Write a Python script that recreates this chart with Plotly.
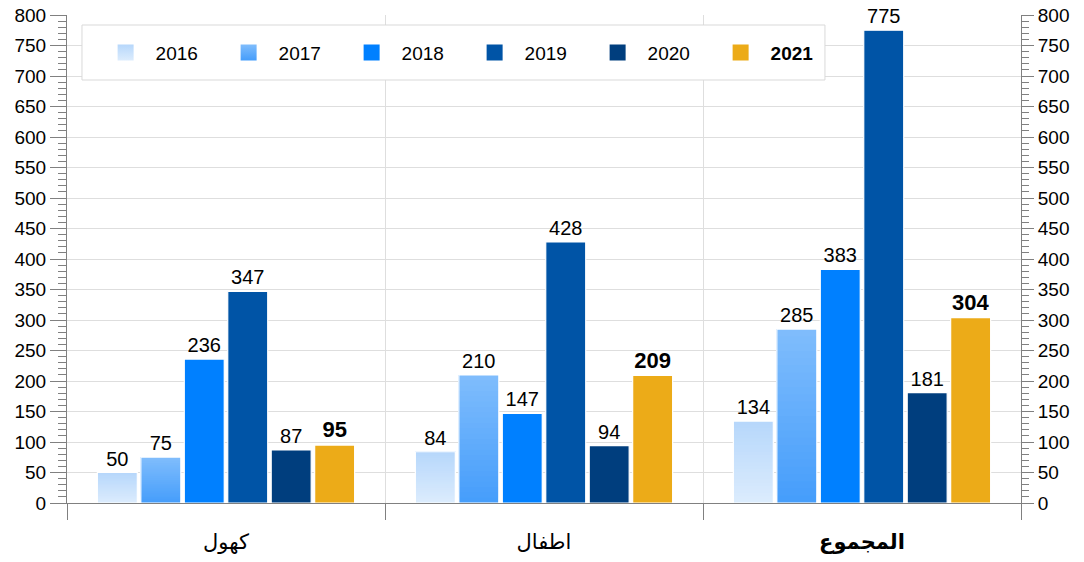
import plotly.graph_objects as go

categories = ["كهول", "اطفال", "المجموع"]
category_labels = ["كهول", "اطفال", "<b>المجموع</b>"]
years = ["2016", "2017", "2018", "2019", "2020", "2021"]
v2016 = [50, 84, 134]
v2017 = [75, 210, 285]
v2018 = [236, 147, 383]
v2019 = [347, 428, 775]
v2020 = [87, 94, 181]
v2021 = [95, 209, 304]
y_ticks = list(range(0, 801, 50))

series = [v2016, v2017, v2018, v2019, v2020, v2021]
# (top colour, bottom colour) -- gradients for 2016 / 2017
colors = [
    ("#b6d7fb", "#dcecfd"),
    ("#80bdfc", "#459dfb"),
    ("#0080ff", "#0080ff"),
    ("#0054a6", "#0054a6"),
    ("#003e7e", "#003e7e"),
    ("#ecab18", "#ecab18"),
]


def hex2rgb(h):
    h = h.lstrip("#")
    return tuple(int(h[i:i + 2], 16) for i in (0, 2, 4))


def mix(c1, c2, t):
    a, b = hex2rgb(c1), hex2rgb(c2)
    return "rgb(%d,%d,%d)" % tuple(round(a[i] + (b[i] - a[i]) * t) for i in range(3))


FONT = "Liberation Sans, Arial, sans-serif"
fig = go.Figure()
N = 24
for k, (yr, vals, (ctop, cbot)) in enumerate(zip(years, series, colors)):
    bold = yr == "2021"
    if ctop != cbot:
        # each slice spans from its start to the top; later slices cover the upper part
        for i in range(N):
            fig.add_trace(go.Bar(
                x=categories,
                y=[v * (N - i) / N for v in vals],
                base=[v * i / N for v in vals],
                offsetgroup=str(k),
                marker=dict(color=mix(cbot, ctop, (i + 0.5) / N), line=dict(width=0)),
                showlegend=False, hoverinfo="skip",
            ))
        fill = "rgba(0,0,0,0)"
    else:
        fill = ctop
    fig.add_trace(go.Bar(
        x=categories, y=vals, offsetgroup=str(k),
        name="<b>%s</b>" % yr if bold else yr,
        marker=dict(color=fill, line=dict(color="white", width=1.2)),
        text=["<b>%d</b>" % v if bold else str(v) for v in vals],
        textposition="outside",
        textfont=dict(family=FONT, size=22 if bold else 20, color="black"),
        cliponaxis=False,
        showlegend=False,
    ))
    # legend entry (square swatch)
    mk = dict(symbol="square", size=20, color=ctop, line=dict(width=0))
    if ctop != cbot:
        mk["gradient"] = dict(type="vertical", color=cbot)
    fig.add_trace(go.Scatter(
        x=[None], y=[None], mode="markers",
        name="<b>%s</b>" % yr if bold else yr,
        marker=mk, showlegend=True,
    ))

axis_col = "#808080"
grid_col = "#dedede"
fig.update_layout(
    template="none",
    width=1084, height=562,
    margin=dict(l=67, r=63, t=15, b=59),
    paper_bgcolor="white", plot_bgcolor="white",
    barmode="group", bargap=0.18, bargroupgap=0.08,
    font=dict(family=FONT, size=19, color="black"),
    legend=dict(
        orientation="h", x=0.03, y=0.923, xanchor="left", yanchor="middle",
        bgcolor="rgba(0,0,0,0)", borderwidth=0, itemsizing="trace",
        font=dict(family=FONT, size=19, color="black"),
        entrywidth=58, itemwidth=50,
    ),
    shapes=[dict(
        type="rect", xref="paper", yref="paper",
        x0=0.0157, x1=0.7945, y0=0.8668, y1=0.9795,
        fillcolor="white", line=dict(color="#d9d9d9", width=1), layer="above",
    )],
    xaxis=dict(
        type="category", tickvals=categories, ticktext=category_labels,
        tickson="boundaries", ticks="outside", ticklen=16, tickcolor=axis_col,
        showgrid=True, gridcolor=grid_col, gridwidth=1,
        showline=True, linecolor=axis_col, linewidth=1,
        tickfont=dict(family="DejaVu Sans, sans-serif", size=21, color="black"),
        ticklabelstandoff=20,
        range=[-0.5, 2.5], automargin=False,
    ),
    yaxis=dict(
        range=[0, 800], tickvals=y_ticks, ticks="outside", ticklen=16, tickcolor=axis_col,
        showgrid=True, gridcolor=grid_col, gridwidth=1,
        showline=True, linecolor=axis_col, linewidth=1, zeroline=False,
        minor=dict(dtick=10, ticks="outside", ticklen=8, tickcolor=axis_col, showgrid=False),
        tickfont=dict(family=FONT, size=19, color="black"),
        automargin=False, ticklabeloverflow="allow",
    ),
    yaxis2=dict(
        range=[0, 800], tickvals=y_ticks, overlaying="y", side="right", matches="y",
        ticks="outside", ticklen=12, tickcolor=axis_col,
        showgrid=False, showline=True, linecolor=axis_col, linewidth=1, zeroline=False,
        minor=dict(dtick=10, ticks="outside", ticklen=7, tickcolor=axis_col, showgrid=False),
        tickfont=dict(family=FONT, size=19, color="black"),
        automargin=False, ticklabeloverflow="allow",
    ),
)
fig.add_trace(go.Scatter(x=[categories[0]], y=[0], yaxis="y2", mode="markers",
                         marker=dict(opacity=0), showlegend=False, hoverinfo="skip"))

# remove the page's default body margin so the figure fills the window exactly
fig.write_html("out.html", config={"displayModeBar": False},
               post_script="document.body.style.margin='0';")
